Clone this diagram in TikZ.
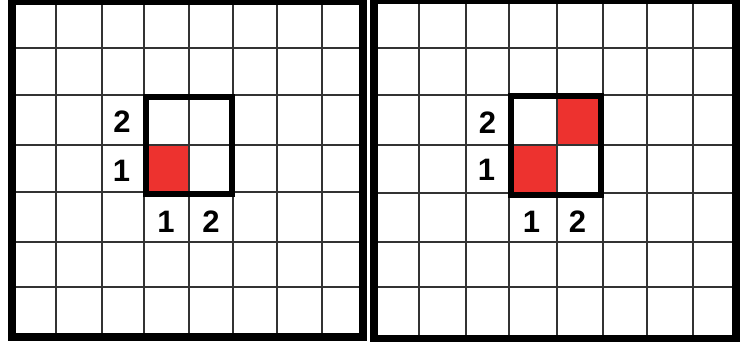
\documentclass[tikz,border=0pt]{standalone}
\usepackage{fontspec}
\setmainfont{Liberation Sans}
\definecolor{cellred}{RGB}{237,50,47}
\begin{document}
\begin{tikzpicture}[x=1pt,y=-1pt,
  gridline/.style={line width=1.6pt, black!80},
  frame/.style={line width=8pt, black},
  selbox/.style={line width=6pt, black, line join=miter},
  redcell/.style={fill=cellred},
  lab/.style={font=\fontsize{31}{31}\bfseries\selectfont, inner sep=0pt, text=black}]
\useasboundingbox[fill=white] (0,0) rectangle (741,342);
% ---------- left grid ----------
\fill[redcell] (144,145) rectangle (189,192);
\foreach \xx in {56,102,144,189,233,277,322}
  \draw[gridline] (\xx,1) -- (\xx,337);
\foreach \yy in {48,95,145,192,242,287}
  \draw[gridline] (11.5,\yy) -- (363,\yy);
\draw[frame] (11.5,1) rectangle (363,337);
\draw[selbox] (145.5,97.5) rectangle (232,193.5);
\node[lab] (L2y) at (122,121.5) {2};
\node[lab] (L1y) at (121.5,170.5) {1};
\node[lab] (L1x) at (166,221.5) {1};
\node[lab] (L2x) at (211,221.5) {2};
% ---------- right grid ----------
\fill[redcell] (509,145) rectangle (557,193);
\fill[redcell] (557,95) rectangle (603,145);
\foreach \xx in {419,466,509,557,603,647,693}
  \draw[gridline] (\xx,0) -- (\xx,339);
\foreach \yy in {48,95,145,193,242,287}
  \draw[gridline] (373.75,\yy) -- (736,\yy);
\draw[frame] (373.75,0) rectangle (736,339);
\draw[selbox] (511,96.5) rectangle (601,194.5);
\node[lab] (R2y) at (487.5,122.5) {2};
\node[lab] (R1y) at (486.5,170) {1};
\node[lab] (R1x) at (531.5,221.5) {1};
\node[lab] (R2x) at (577.5,221.5) {2};
\end{tikzpicture}
\end{document}
